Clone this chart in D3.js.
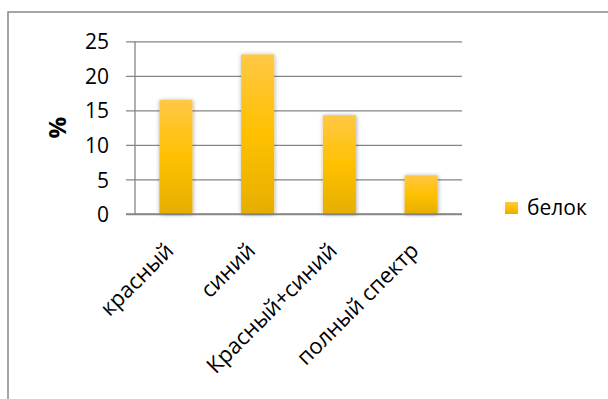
<!DOCTYPE html>
<html>
<head>
<meta charset="utf-8">
<script src="https://cdnjs.cloudflare.com/ajax/libs/d3/7.8.5/d3.min.js"></script>
<style>
  html, body { margin: 0; padding: 0; background: #fff; }
  svg { display: block; }
  text { font-family: "Open Sans", "DejaVu Sans", sans-serif; fill: #000; }
</style>
</head>
<body>
<svg id="chart" width="608" height="399"></svg>
<script>
// Protein content (%) by lighting spectrum
const categories = ["красный", "синий", "Красный+синий", "полный спектр"];
const proteinValues = [16.5, 23.1, 14.3, 5.6];
const yTicks = [0, 5, 10, 15, 20, 25];
const seriesName = "белок";
const axisTitle = "%";

const svg = d3.select("#chart");
const W = 608, H = 399;
const plot = { left: 135, right: 462, top: 41.3, bottom: 214 };

// Outer frame (only top and left edges fall inside the view)
svg.append("path")
  .attr("d", `M8,${H} V12 H${W}`)
  .attr("fill", "none")
  .attr("stroke", "#888")
  .attr("stroke-width", 1.5);

const x = d3.scaleBand()
  .domain(categories)
  .range([plot.left, plot.right])
  .paddingInner(0.596)
  .paddingOuter(0.298);

const y = d3.scaleLinear()
  .domain([0, 25])
  .range([plot.bottom, plot.top]);

// Gradient for bars
const defs = svg.append("defs");
const grad = defs.append("linearGradient")
  .attr("id", "barGrad").attr("x1", 0).attr("y1", 0).attr("x2", 0).attr("y2", 1);
grad.append("stop").attr("offset", "0%").attr("stop-color", "#FFC845");
grad.append("stop").attr("offset", "50%").attr("stop-color", "#FFC000");
grad.append("stop").attr("offset", "100%").attr("stop-color", "#E5AE00");

const shadow = defs.append("filter").attr("id", "barShadow")
  .attr("x", "-40%").attr("y", "-10%").attr("width", "180%").attr("height", "120%");
shadow.append("feDropShadow")
  .attr("dx", 0.5).attr("dy", 0.5).attr("stdDeviation", 2.2)
  .attr("flood-color", "#000").attr("flood-opacity", 0.35);

// Y axis with gridlines
const yAxis = d3.axisLeft(y)
  .tickValues(yTicks)
  .tickSize(-(plot.right - plot.left))
  .tickSizeOuter(0)
  .tickPadding(26);

const gy = svg.append("g")
  .attr("transform", `translate(${plot.left},0)`)
  .call(yAxis);
gy.select(".domain").remove();
gy.selectAll(".tick line")
  .attr("x1", -9)
  .attr("stroke", "#868686")
  .attr("stroke-width", 1.3);
gy.selectAll(".tick text")
  .style("font-size", "21px")
  .attr("dy", "0.36em");

// Vertical axis line
svg.append("line")
  .attr("x1", plot.left).attr("x2", plot.left)
  .attr("y1", y(25)).attr("y2", y(0))
  .attr("stroke", "#868686").attr("stroke-width", 1.3);

// Bars
svg.append("g").selectAll("rect")
  .data(proteinValues)
  .join("rect")
  .attr("x", (d, i) => x(categories[i]))
  .attr("width", x.bandwidth())
  .attr("y", d => y(d))
  .attr("height", d => y(0) - y(d))
  .attr("fill", "url(#barGrad)")
  .attr("filter", "url(#barShadow)");

// Baseline drawn over bars
svg.append("line")
  .attr("x1", plot.left - 9).attr("x2", plot.right)
  .attr("y1", y(0)).attr("y2", y(0))
  .attr("stroke", "#868686").attr("stroke-width", 1.3);

// Category labels, rotated
const xAxis = d3.axisBottom(x).tickSize(0).tickPadding(0);
const gx = svg.append("g")
  .attr("transform", `translate(0,${plot.bottom})`)
  .call(xAxis);
gx.select(".domain").remove();
gx.selectAll(".tick text")
  .style("font-size", "22px")
  .attr("text-anchor", "end")
  .attr("dy", null)
  .attr("y", 0)
  .attr("transform", "translate(-1,38) rotate(-45)");

// Axis title
svg.append("text")
  .attr("transform", `translate(66,${(y(25) + y(0)) / 2}) rotate(-90)`)
  .attr("text-anchor", "middle")
  .style("font-size", "24px")
  .style("font-weight", "bold")
  .text(axisTitle);

// Legend
const legend = svg.append("g").attr("transform", "translate(505,202)");
legend.append("rect")
  .attr("width", 13).attr("height", 12)
  .attr("fill", "url(#barGrad)");
legend.append("text")
  .attr("x", 22).attr("y", 13)
  .style("font-size", "21px")
  .text(seriesName);
</script>
</body>
</html>
